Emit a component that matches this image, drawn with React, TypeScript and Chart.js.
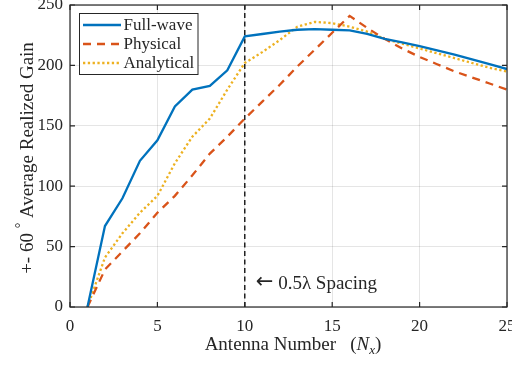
import React, { useEffect, useRef } from "react";
import { Chart, registerables } from "chart.js";

Chart.register(...registerables);

const antennaNumbers = [1, 2, 3, 4, 5, 6, 7, 8, 9, 10, 11, 12, 13, 14, 15, 16, 17, 18, 19, 20, 21, 22, 23, 24, 25];
const fullWave = [0, 67, 90, 121, 138, 166, 180, 183, 196, 224, 226, 228, 229.5, 230, 229.5, 229, 226, 222, 219, 216, 212.5, 209, 205, 201, 197];
const physical = [0, 31, 46, 61, 78, 92, 109, 127, 141, 156, 170, 184, 199, 213, 227, 241, 231, 222, 214, 207, 201, 195, 190, 185, 180];
const analytical = [0, 41, 61, 78, 92, 119, 141, 156, 180, 202, 211, 221, 232, 236, 235, 232, 228, 222, 218, 214, 210, 206, 202, 198, 195];
const spacingMarkerX = [10, 10];
const spacingMarkerY = [0, 250];
const xTicks = [0, 5, 10, 15, 20, 25];
const yTicks = [0, 50, 100, 150, 200, 250];
const seriesNames = ["Full-wave", "Physical", "Analytical"];
const annotationArrow = "\u2190";
const annotationText = " 0.5\u03bb Spacing";

const FONT = '"Liberation Serif", "Times New Roman", serif';
const DARK = "#262626";

const decoPlugin = {
  id: "deco",
  afterDraw(chart: any) {
    const ctx = chart.ctx;
    const { left, right, top, bottom } = chart.chartArea;
    const xs = chart.scales.x;
    const ys = chart.scales.y;
    ctx.save();
    // box
    ctx.strokeStyle = DARK;
    ctx.lineWidth = 1.2;
    ctx.strokeRect(left, top, right - left, bottom - top);
    // inward ticks
    const tl = 5;
    ctx.beginPath();
    xTicks.forEach((v) => {
      const px = xs.getPixelForValue(v);
      ctx.moveTo(px, bottom);
      ctx.lineTo(px, bottom - tl);
      ctx.moveTo(px, top);
      ctx.lineTo(px, top + tl);
    });
    yTicks.forEach((v) => {
      const py = ys.getPixelForValue(v);
      ctx.moveTo(left, py);
      ctx.lineTo(left + tl, py);
      ctx.moveTo(right, py);
      ctx.lineTo(right - tl, py);
    });
    ctx.stroke();

    // annotation
    ctx.fillStyle = DARK;
    ctx.textBaseline = "middle";
    ctx.textAlign = "left";
    let ax = xs.getPixelForValue(10) + 11;
    const ay = ys.getPixelForValue(20);
    ctx.font = `21px "DejaVu Sans", sans-serif`;
    ctx.fillText(annotationArrow, ax, ay);
    ax += ctx.measureText(annotationArrow).width;
    ctx.font = `19px ${FONT}`;
    ctx.fillText(annotationText, ax, ay + 1);

    // legend
    const lx = 79.5, ly = 13.5, lw = 118.5, lh = 61;
    ctx.fillStyle = "#ffffff";
    ctx.fillRect(lx, ly, lw, lh);
    ctx.strokeStyle = DARK;
    ctx.lineWidth = 1;
    ctx.setLineDash([]);
    ctx.strokeRect(lx, ly, lw, lh);
    const rows = [25, 44, 63];
    chart.data.datasets.slice(0, 3).forEach((ds: any, i: number) => {
      ctx.save();
      ctx.strokeStyle = ds.borderColor;
      ctx.lineWidth = ds.borderWidth;
      ctx.setLineDash(ds.borderDash || []);
      ctx.beginPath();
      ctx.moveTo(83, rows[i]);
      ctx.lineTo(121, rows[i]);
      ctx.stroke();
      ctx.restore();
      ctx.fillStyle = DARK;
      ctx.font = `17px ${FONT}`;
      ctx.textBaseline = "middle";
      ctx.fillText(ds.label, 123.5, rows[i] + 1);
    });

    // x title
    const parts = [
      { t: "Antenna Number   (", f: `19px ${FONT}`, dy: 0 },
      { t: "N", f: `italic 19px ${FONT}`, dy: 0 },
      { t: "x", f: `italic 13px ${FONT}`, dy: 4 },
      { t: ")", f: `19px ${FONT}`, dy: 0 },
    ];
    let total = 0;
    parts.forEach((p) => {
      ctx.font = p.f;
      total += ctx.measureText(p.t).width;
    });
    let cx = 293 - total / 2;
    ctx.textBaseline = "alphabetic";
    ctx.fillStyle = DARK;
    parts.forEach((p) => {
      ctx.font = p.f;
      ctx.fillText(p.t, cx, 350 + p.dy);
      cx += ctx.measureText(p.t).width;
    });

    // y title
    const yparts = [
      { t: "+- 60 ", f: `19px ${FONT}`, dy: 0 },
      { t: "\u00b0", f: `14px ${FONT}`, dy: -8 },
      { t: " Average Realized Gain", f: `19px ${FONT}`, dy: 0 },
    ];
    let ytotal = 0;
    yparts.forEach((p) => {
      ctx.font = p.f;
      ytotal += ctx.measureText(p.t).width;
    });
    ctx.translate(33, 158);
    ctx.rotate(-Math.PI / 2);
    let cy = -ytotal / 2;
    yparts.forEach((p) => {
      ctx.font = p.f;
      ctx.fillText(p.t, cy, p.dy);
      cy += ctx.measureText(p.t).width;
    });
    ctx.restore();
  },
};

export default function App() {
  const ref = useRef<HTMLCanvasElement | null>(null);
  useEffect(() => {
    document.body.style.margin = "0";
    const toXY = (ys: number[]) => antennaNumbers.map((x, i) => ({ x, y: ys[i] }));
    const chart = new Chart(ref.current as HTMLCanvasElement, {
      type: "line",
      data: {
        datasets: [
          {
            label: seriesNames[0],
            data: toXY(fullWave),
            borderColor: "#0072BD",
            borderWidth: 2.3,
            pointRadius: 0,
            tension: 0,
          },
          {
            label: seriesNames[1],
            data: toXY(physical),
            borderColor: "#D95319",
            borderWidth: 2.3,
            borderDash: [8, 6],
            pointRadius: 0,
            tension: 0,
          },
          {
            label: seriesNames[2],
            data: toXY(analytical),
            borderColor: "#EDB120",
            borderWidth: 2.3,
            borderDash: [2.3, 2.5],
            pointRadius: 0,
            tension: 0,
          },
          {
            label: "spacing",
            data: spacingMarkerX.map((x, i) => ({ x, y: spacingMarkerY[i] })),
            borderColor: "#000000",
            borderWidth: 1.3,
            borderDash: [5, 3.5],
            pointRadius: 0,
          },
        ],
      },
      options: {
        animation: false,
        responsive: false,
        layout: { padding: { top: 5, right: 5, left: 0, bottom: 0 } },
        plugins: { legend: { display: false }, tooltip: { enabled: false } },
        scales: {
          x: {
            type: "linear",
            min: 0,
            max: 25,
            ticks: { stepSize: 5, color: DARK, font: { family: FONT, size: 17 }, padding: 9, maxRotation: 0 },
            grid: { color: "rgba(0,0,0,0.1)", drawTicks: false },
            border: { display: false },
            afterFit: (s: any) => {
              s.height = 59;
              s.paddingLeft = 0;
              s.paddingRight = 0;
            },
          },
          y: {
            type: "linear",
            min: 0,
            max: 250,
            ticks: { stepSize: 50, color: DARK, font: { family: FONT, size: 17 }, padding: 7 },
            grid: { color: "rgba(0,0,0,0.1)", drawTicks: false },
            border: { display: false },
            afterFit: (s: any) => {
              s.width = 70;
              s.paddingTop = 0;
              s.paddingBottom = 0;
            },
          },
        },
      },
      plugins: [decoPlugin],
    } as any);
    return () => chart.destroy();
  }, []);
  return <canvas ref={ref} width={512} height={366} style={{ display: "block" }} />;
}
